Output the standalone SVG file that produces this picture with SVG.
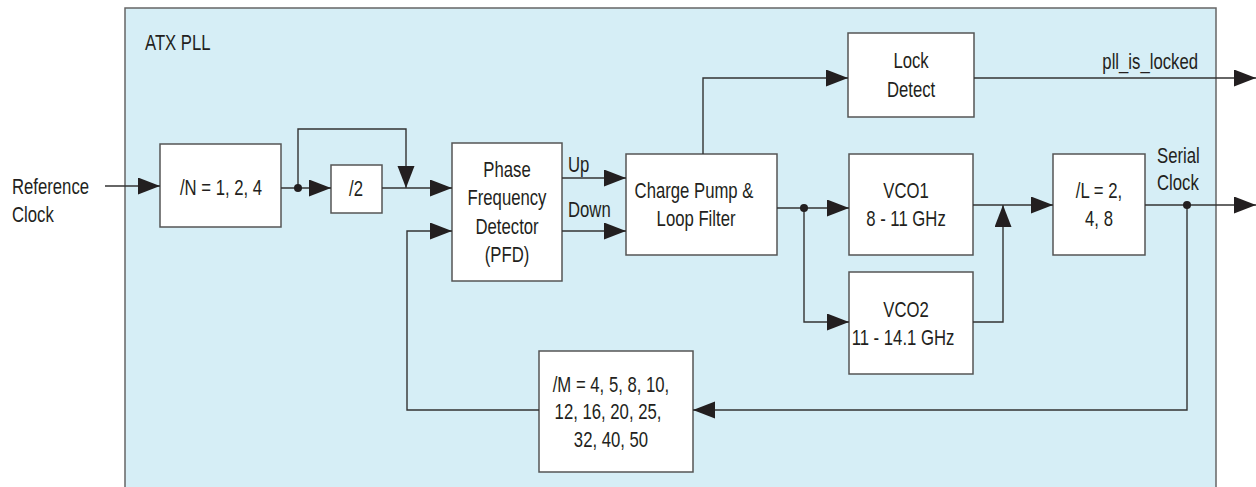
<svg xmlns="http://www.w3.org/2000/svg" width="1256" height="487" viewBox="0 0 1256 487">
<defs>
<marker id="arr" markerUnits="userSpaceOnUse" markerWidth="22" markerHeight="18" refX="22" refY="8.5" orient="auto">
<path d="M0,0 L22,8.5 L0,17 Z" fill="#231f20"/>
</marker>
<style>
.t{font-family:"Liberation Sans",Arial,sans-serif;font-size:22px;fill:#231f20;transform-box:fill-box;transform-origin:left center;transform:scaleX(0.76)}
.m{text-anchor:middle;transform-origin:center center}
.e{text-anchor:end;transform-origin:right center}
.box{fill:#ffffff;stroke:#555;stroke-width:1.5}
.ln{fill:none;stroke:#333;stroke-width:1.4}
.dot{fill:#231f20}
</style>
</defs>
<rect x="0" y="0" width="1256" height="487" fill="#ffffff"/>
<g id="atx-pll">
<rect x="125" y="8" width="1091" height="490" fill="#d6eef6" stroke="#666" stroke-width="1.5"/>
<text class="t" x="145" y="50">ATX PLL</text>
</g>
<text class="t" x="12" y="194">Reference</text>
<text class="t" x="12" y="222">Clock</text>
<g id="n-div"><rect class="box" x="160" y="144" width="121" height="83"/><text class="t m" x="221" y="195">/N = 1, 2, 4</text></g>
<g id="div2"><rect class="box" x="331" y="165" width="51" height="48"/><text class="t m" x="356" y="196">/2</text></g>
<g id="pfd"><rect class="box" x="452" y="143" width="110" height="138"/>
<text class="t m" x="507" y="177">Phase</text><text class="t m" x="507" y="205">Frequency</text><text class="t m" x="507" y="234">Detector</text><text class="t m" x="507" y="262">(PFD)</text></g>
<g id="cp"><rect class="box" x="626" y="154" width="151" height="101"/>
<text class="t m" x="694" y="198">Charge Pump &amp;</text><text class="t m" x="696" y="226">Loop Filter</text></g>
<g id="lock"><rect class="box" x="848" y="33" width="126" height="84"/>
<text class="t m" x="911" y="68">Lock</text><text class="t m" x="911" y="97">Detect</text></g>
<g id="vco1"><rect class="box" x="849" y="154" width="124" height="101"/>
<text class="t m" x="906" y="198">VCO1</text><text class="t m" x="906" y="226">8 - 11 GHz</text></g>
<g id="vco2"><rect class="box" x="849" y="272" width="124" height="102"/>
<text class="t m" x="906" y="317">VCO2</text><text class="t m" x="903" y="345">11 - 14.1 GHz</text></g>
<g id="l-div"><rect class="box" x="1053" y="154" width="92" height="101"/>
<text class="t m" x="1099" y="198">/L = 2,</text><text class="t m" x="1099" y="226">4, 8</text></g>
<g id="m-div"><rect class="box" x="539" y="351" width="154" height="121"/>
<text class="t m" x="611" y="392">/M = 4, 5, 8, 10,</text><text class="t m" x="608" y="419">12, 16, 20, 25,</text><text class="t m" x="611" y="447">32, 40, 50</text></g>
<g id="connectors">
<path class="ln" d="M105,186 H160" marker-end="url(#arr)"/>
<path class="ln" d="M281,188 H331" marker-end="url(#arr)"/>
<path class="ln" d="M298,188 V129 H406 V188" marker-end="url(#arr)"/>
<path class="ln" d="M382,188 H452" marker-end="url(#arr)"/>
<path class="ln" d="M562,178 H626" marker-end="url(#arr)"/>
<path class="ln" d="M562,231 H626" marker-end="url(#arr)"/>
<path class="ln" d="M703,154 V78 H848" marker-end="url(#arr)"/>
<path class="ln" d="M974,78 H1256" marker-end="url(#arr)"/>
<path class="ln" d="M777,208 H849" marker-end="url(#arr)"/>
<path class="ln" d="M804,208 V322 H849" marker-end="url(#arr)"/>
<path class="ln" d="M973,322 H1003 V205" marker-end="url(#arr)"/>
<path class="ln" d="M973,205 H1053" marker-end="url(#arr)"/>
<path class="ln" d="M1145,205 H1256" marker-end="url(#arr)"/>
<path class="ln" d="M1187,205 V410 H693" marker-end="url(#arr)"/>
<path class="ln" d="M539,410 H407 V231 H452" marker-end="url(#arr)"/>
<circle class="dot" cx="298" cy="188" r="4"/>
<circle class="dot" cx="804" cy="208" r="4"/>
<circle class="dot" cx="1187" cy="205" r="4"/>
<text class="t" x="568" y="172">Up</text>
<text class="t" x="568" y="217">Down</text>
<text class="t e" x="1198" y="69">pll_is_locked</text>
<text class="t" x="1157" y="163">Serial</text>
<text class="t" x="1157" y="190">Clock</text>
</g>
</svg>
